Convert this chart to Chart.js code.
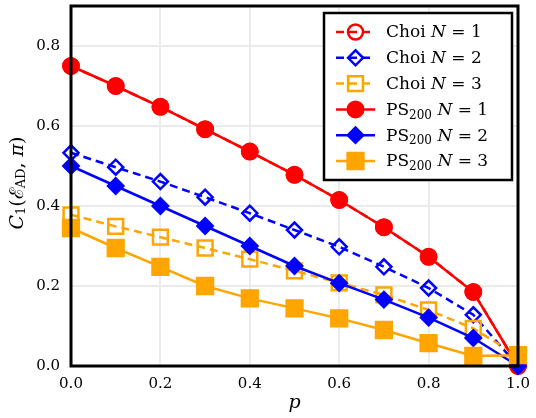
<!DOCTYPE html>
<html>
<head>
<meta charset="utf-8">
<script src="https://cdn.jsdelivr.net/npm/chart.js@4.4.1/dist/chart.umd.min.js"></script>
<style>
  html, body { margin: 0; padding: 0; background: #fff; }
  #wrap { width: 536px; height: 418px; position: relative; }
</style>
</head>
<body>
<div id="wrap"><canvas id="chart"></canvas></div>
<script>
// x values (p)
const pValues = [0.0, 0.1, 0.2, 0.3, 0.4, 0.5, 0.6, 0.7, 0.8, 0.9, 1.0];

// Choi results
const choiN1 = [0.75, 0.70, 0.648, 0.592, 0.536, 0.478, 0.415, 0.347, 0.273, 0.185, 0.0];
const choiN2 = [0.533, 0.497, 0.461, 0.422, 0.382, 0.34, 0.298, 0.248, 0.195, 0.128, 0.0];
const choiN3 = [0.378, 0.349, 0.322, 0.295, 0.267, 0.238, 0.208, 0.178, 0.14, 0.094, 0.025];

// PS_200 results
const psN1 = [0.75, 0.70, 0.648, 0.592, 0.536, 0.478, 0.415, 0.347, 0.273, 0.185, 0.0];
const psN2 = [0.50, 0.45, 0.40, 0.35, 0.30, 0.25, 0.207, 0.166, 0.121, 0.07, 0.0];
const psN3 = [0.345, 0.295, 0.248, 0.2, 0.169, 0.144, 0.119, 0.09, 0.057, 0.025, 0.027];

const xTicks = [0.0, 0.2, 0.4, 0.6, 0.8, 1.0];
const yTicks = [0.0, 0.2, 0.4, 0.6, 0.8];

const RED = "#ff0000";
const BLUE = "#0000ff";
const ORANGE = "#ffa500";
const FONT = "'DejaVu Serif', 'Liberation Serif', serif";

function toPoints(ys) {
  return pValues.map((x, i) => ({ x: x, y: ys[i] }));
}

function makeSet(label, ys, color, shape, open) {
  const radius = shape === "rect" ? (open ? 10.5 : 11.5) : (open ? 7.5 : 8);
  return {
    label: label,
    data: toPoints(ys),
    borderColor: color,
    backgroundColor: color,
    borderWidth: 2.5,
    borderDash: open ? [8, 5] : [],
    pointStyle: shape,
    pointRadius: radius,
    pointHoverRadius: radius,
    pointBorderWidth: open ? 2.5 : 2,
    pointBorderColor: color,
    pointBackgroundColor: open ? "rgba(0,0,0,0)" : color,
    tension: 0,
    clip: false,
  };
}

// dataset 0 is drawn on top
const datasets = [
  makeSet("PS N=3", psN3, ORANGE, "rect", false),
  makeSet("PS N=2", psN2, BLUE, "rectRot", false),
  makeSet("PS N=1", psN1, RED, "circle", false),
  makeSet("Choi N=3", choiN3, ORANGE, "rect", true),
  makeSet("Choi N=2", choiN2, BLUE, "rectRot", true),
  makeSet("Choi N=1", choiN1, RED, "circle", true),
];

// draw text made of pieces (italic, subscripts)
function drawRich(ctx, parts, x, y) {
  let total = 0;
  parts.forEach((p) => {
    ctx.font = p.font;
    p.w = ctx.measureText(p.t).width;
    total += p.w;
  });
  let cx = x - total / 2;
  parts.forEach((p) => {
    ctx.font = p.font;
    ctx.fillText(p.t, cx, y + (p.dy || 0));
    cx += p.w;
  });
}

function drawRichLeft(ctx, parts, x, y) {
  let cx = x;
  parts.forEach((p) => {
    ctx.font = p.font;
    ctx.fillText(p.t, cx, y + (p.dy || 0));
    cx += ctx.measureText(p.t).width;
  });
}

function drawMarker(ctx, shape, x, y, r, color, open) {
  ctx.save();
  ctx.setLineDash([]);
  ctx.beginPath();
  if (shape === "circle") {
    ctx.arc(x, y, r, 0, Math.PI * 2);
  } else if (shape === "rectRot") {
    ctx.moveTo(x - r, y);
    ctx.lineTo(x, y - r);
    ctx.lineTo(x + r, y);
    ctx.lineTo(x, y + r);
    ctx.closePath();
  } else {
    const s = Math.SQRT1_2 * r;
    ctx.rect(x - s, y - s, 2 * s, 2 * s);
  }
  ctx.strokeStyle = color;
  ctx.lineWidth = open ? 2.5 : 2;
  if (!open) {
    ctx.fillStyle = color;
    ctx.fill();
  }
  ctx.stroke();
  ctx.restore();
}

const decorPlugin = {
  id: "decor",
  afterDatasetsDraw(chart) {
    const ctx = chart.ctx;
    const a = chart.chartArea;
    ctx.save();
    // frame around the plot
    ctx.strokeStyle = "#000";
    ctx.lineWidth = 3;
    ctx.strokeRect(a.left, a.top, a.right - a.left, a.bottom - a.top);
    ctx.restore();
  },
  afterDraw(chart) {
    const ctx = chart.ctx;
    const a = chart.chartArea;
    const big = "19px " + FONT;
    const bigIt = "italic 19px " + FONT;
    const sub = "13px " + FONT;
    const leg = "17px " + FONT;
    const legIt = "italic 17px " + FONT;
    const legSub = "12px " + FONT;

    ctx.save();
    ctx.fillStyle = "#000";
    ctx.textBaseline = "middle";

    // x title
    ctx.font = "italic 19px " + FONT;
    ctx.textAlign = "center";
    ctx.fillText("p", (a.left + a.right) / 2, 403);

    // y title
    ctx.textAlign = "left";
    ctx.save();
    ctx.translate(18, 183);
    ctx.rotate(-Math.PI / 2);
    drawRich(ctx, [
      { t: "C", font: bigIt },
      { t: "1", font: sub, dy: 4 },
      { t: "(", font: big },
      { t: "\u2130", font: big },
      { t: "AD", font: sub, dy: 4 },
      { t: ", ", font: big },
      { t: "\u03c0", font: bigIt },
      { t: ")", font: big },
    ], 0, 0);
    ctx.restore();

    // legend box
    const bx = 324, by = 13, bw = 188, bh = 167;
    ctx.fillStyle = "#fff";
    ctx.fillRect(bx, by, bw, bh);
    ctx.strokeStyle = "#000";
    ctx.lineWidth = 2.5;
    ctx.strokeRect(bx, by, bw, bh);

    const rows = [
      { name: "Choi", n: "1", color: RED, shape: "circle", open: true },
      { name: "Choi", n: "2", color: BLUE, shape: "rectRot", open: true },
      { name: "Choi", n: "3", color: ORANGE, shape: "rect", open: true },
      { name: "PS", n: "1", color: RED, shape: "circle", open: false },
      { name: "PS", n: "2", color: BLUE, shape: "rectRot", open: false },
      { name: "PS", n: "3", color: ORANGE, shape: "rect", open: false },
    ];
    rows.forEach((row, i) => {
      const y = 32 + i * 25.8;
      ctx.save();
      ctx.strokeStyle = row.color;
      ctx.lineWidth = 2.5;
      ctx.setLineDash(row.open ? [8, 5] : []);
      ctx.beginPath();
      ctx.moveTo(336, y);
      ctx.lineTo(375, y);
      ctx.stroke();
      ctx.restore();
      let r;
      if (row.shape === "rect") r = row.open ? 10.5 : 11.5;
      else r = row.open ? 7.5 : 8;
      drawMarker(ctx, row.shape, 355.5, y, r, row.color, row.open);

      ctx.fillStyle = "#000";
      const parts = [{ t: row.name, font: leg }];
      if (row.name === "PS") parts.push({ t: "200", font: legSub, dy: 5 });
      parts.push({ t: " ", font: leg });
      parts.push({ t: "N", font: legIt });
      parts.push({ t: " = " + row.n, font: leg });
      drawRichLeft(ctx, parts, 386, y + 1);
    });
    ctx.restore();
  },
};

new Chart(document.getElementById("chart"), {
  type: "line",
  data: { datasets: datasets },
  options: {
    responsive: true,
    maintainAspectRatio: false,
    animation: false,
    events: [],
    layout: { autoPadding: false, padding: { top: 6, right: 18, left: 0, bottom: 0 } },
    plugins: {
      legend: { display: false },
      tooltip: { enabled: false },
    },
    scales: {
      x: {
        type: "linear",
        min: 0,
        max: 1,
        afterBuildTicks: (s) => { s.ticks = xTicks.map((v) => ({ value: v })); },
        afterFit: (s) => { s.height = 52; s.paddingLeft = 0; s.paddingRight = 0; },
        ticks: {
          padding: 9,
          color: "#000",
          font: { family: FONT, size: 15 },
          maxRotation: 0,
          callback: (v) => Number(v).toFixed(1),
        },
        grid: { color: "#ebebeb", lineWidth: 2, drawTicks: false },
        border: { display: false },
      },
      y: {
        type: "linear",
        min: 0,
        max: 0.9,
        afterBuildTicks: (s) => { s.ticks = yTicks.map((v) => ({ value: v })); },
        afterFit: (s) => { s.width = 71; s.paddingTop = 0; s.paddingBottom = 0; },
        ticks: {
          padding: 11,
          color: "#000",
          font: { family: FONT, size: 15 },
          callback: (v) => Number(v).toFixed(1),
        },
        grid: { color: "#ebebeb", lineWidth: 2, drawTicks: false },
        border: { display: false },
      },
    },
  },
  plugins: [decorPlugin],
});
</script>
</body>
</html>
